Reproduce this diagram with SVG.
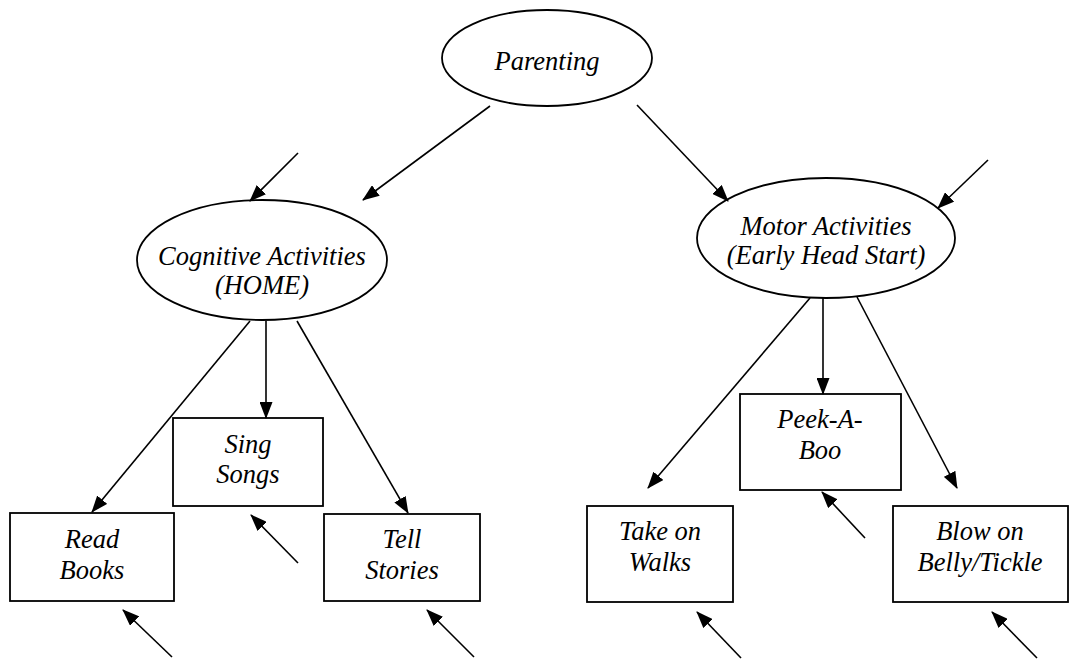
<svg xmlns="http://www.w3.org/2000/svg" width="1087" height="660" viewBox="0 0 1087 660">
<style>
.n{fill:#fff;stroke:#000;stroke-width:1.8}
.t{font-family:"Liberation Serif","Times New Roman",serif;font-style:italic;font-size:26.5px;fill:#000;text-anchor:middle}
.c line{stroke:#000;stroke-width:1.6;marker-end:url(#a)}
</style>
<defs>
<marker id="a" markerUnits="userSpaceOnUse" markerWidth="17" markerHeight="13" refX="16" refY="6.5" orient="auto">
<path d="M0,0 L17,6.5 L0,13 z" fill="#000"/>
</marker>
</defs>
<rect width="1087" height="660" fill="#fff"/>
<g id="parenting"><ellipse class="n" cx="547" cy="58" rx="105" ry="48"/><text class="t" x="547" y="70">Parenting</text></g>
<g id="cognitive"><ellipse class="n" cx="262" cy="260" rx="125" ry="60"/><text class="t" x="262" y="265">Cognitive Activities</text><text class="t" x="262" y="294">(HOME)</text></g>
<g id="motor"><ellipse class="n" cx="826" cy="238" rx="129" ry="60"/><text class="t" x="826" y="235">Motor Activities</text><text class="t" x="826" y="264">(Early Head Start)</text></g>
<g id="read"><rect class="n" x="10" y="513" width="164" height="88"/><text class="t" x="92" y="548">Read</text><text class="t" x="92" y="579">Books</text></g>
<g id="sing"><rect class="n" x="173" y="418" width="150" height="88"/><text class="t" x="248" y="453">Sing</text><text class="t" x="248" y="483">Songs</text></g>
<g id="tell"><rect class="n" x="324" y="514" width="156" height="87"/><text class="t" x="402" y="548">Tell</text><text class="t" x="402" y="579">Stories</text></g>
<g id="walks"><rect class="n" x="587" y="506" width="146" height="96"/><text class="t" x="660" y="540">Take on</text><text class="t" x="660" y="571">Walks</text></g>
<g id="peek"><rect class="n" x="740" y="394" width="161" height="96"/><text class="t" x="820" y="428">Peek-A-</text><text class="t" x="820" y="459">Boo</text></g>
<g id="blow"><rect class="n" x="893" y="506" width="175" height="96"/><text class="t" x="980" y="540">Blow on</text><text class="t" x="980" y="571">Belly/Tickle</text></g>
<g id="connectors" class="c">
<line x1="490" y1="106" x2="363" y2="200"/>
<line x1="637" y1="105" x2="728" y2="201"/>
<line x1="298" y1="153" x2="250" y2="201"/>
<line x1="988" y1="160" x2="938" y2="208"/>
<line x1="250" y1="321" x2="92" y2="512"/>
<line x1="266" y1="321" x2="266" y2="418"/>
<line x1="297" y1="321" x2="408" y2="513"/>
<line x1="810" y1="298" x2="648" y2="488"/>
<line x1="823" y1="298" x2="823" y2="394"/>
<line x1="857" y1="297" x2="957" y2="488"/>
<line x1="298" y1="563" x2="251" y2="515"/>
<line x1="172" y1="657" x2="123" y2="610"/>
<line x1="474" y1="657" x2="427" y2="610"/>
<line x1="865" y1="538" x2="822" y2="492"/>
<line x1="741" y1="658" x2="697" y2="612"/>
<line x1="1037" y1="658" x2="992" y2="612"/>
</g>
</svg>
